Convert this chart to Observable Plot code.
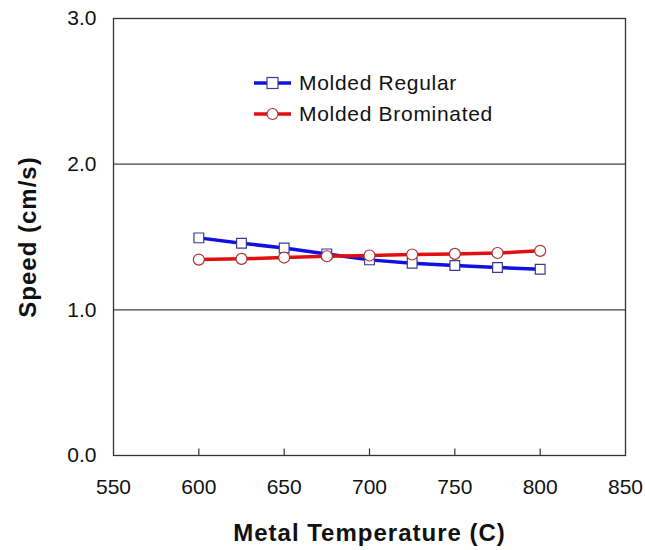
<!DOCTYPE html>
<html><head><meta charset="utf-8">
<script src="https://cdn.jsdelivr.net/npm/d3@7"></script>
<script src="https://cdn.jsdelivr.net/npm/@observablehq/plot@0.6"></script>
<style>
body{margin:0;background:#fff;font-family:"Liberation Sans",Arial,sans-serif;}
#wrap{position:relative;width:645px;height:550px;}
#legend{position:absolute;left:254px;top:67px;font-size:21px;letter-spacing:0.7px;color:#111;}
#legend .row{display:flex;align-items:center;height:31px;}
#legend svg{margin-right:8px;}
</style></head>
<body><div id="wrap"><div id="chart"></div><div id="legend"></div></div>
<script>
const temps = [600, 625, 650, 675, 700, 725, 750, 775, 800];
const regular = [1.494, 1.457, 1.425, 1.384, 1.343, 1.32, 1.304, 1.29, 1.279];
const brominated = [1.345, 1.35, 1.359, 1.368, 1.373, 1.38, 1.384, 1.39, 1.405];
const seriesNames = ["Molded Regular", "Molded Brominated"];
const xTicks = [550, 600, 650, 700, 750, 800, 850];
const yTicks = [0, 1, 2, 3];
const gridValues = [1, 2];

const colors = {"Molded Regular": "#1010e0", "Molded Brominated": "#e01010"};
const data = [];
temps.forEach((t, i) => {
  data.push({t, v: regular[i], s: seriesNames[0]});
  data.push({t, v: brominated[i], s: seriesNames[1]});
});
const reg = data.filter(d => d.s === seriesNames[0]);
const bro = data.filter(d => d.s === seriesNames[1]);

const chart = Plot.plot({
  width: 645, height: 550,
  marginLeft: 113, marginRight: 20, marginTop: 18, marginBottom: 95,
  style: {fontFamily: "Liberation Sans, Arial, sans-serif", fontSize: "21px", color: "#111", background: "#fff"},
  x: {domain: [550, 850]},
  y: {domain: [0, 3]},
  marks: [
    Plot.ruleY(gridValues, {stroke: "#444", strokeWidth: 1.2}),
    Plot.ruleX(xTicks.slice(1, -1), {y1: 0, y2: 0.045, stroke: "#333", strokeWidth: 1.2}),
    Plot.frame({stroke: "#333", strokeWidth: 1.3}),
    Plot.axisY({ticks: yTicks, tickSize: 0, tickPadding: 17, tickFormat: d3.format(".1f"), fontSize: 21, label: null}),
    Plot.axisX({ticks: xTicks, tickSize: 0, tickPadding: 24, tickFormat: d => String(d), fontSize: 21, label: null}),
    Plot.line(reg, {x: "t", y: "v", stroke: colors[seriesNames[0]], strokeWidth: 3.5}),
    Plot.line(bro, {x: "t", y: "v", stroke: colors[seriesNames[1]], strokeWidth: 3.5}),
    Plot.dot(reg, {x: "t", y: "v", symbol: "square", r: 5.5, fill: "white", stroke: "#3a3a9a", strokeWidth: 1.2}),
    Plot.dot(bro, {x: "t", y: "v", symbol: "circle", r: 5.5, fill: "white", stroke: "#b03030", strokeWidth: 1.2}),
    Plot.text(["Metal Temperature (C)"], {frameAnchor: "bottom", lineAnchor: "middle", dy: 78, fontSize: 24, fontWeight: "bold", fill: "#111", style: {letterSpacing: "1px"}}),
    Plot.text(["Speed (cm/s)"], {frameAnchor: "left", textAnchor: "middle", lineAnchor: "middle", dx: -85, rotate: -90, fontSize: 24, fontWeight: "bold", fill: "#111"})
  ]
});
document.getElementById("chart").appendChild(chart);
chart.querySelectorAll("text").forEach(t => {
  if (t.textContent === "Metal Temperature (C)" || t.textContent === "Speed (cm/s)") t.style.letterSpacing = "1px";
});

const legend = document.getElementById("legend");
seriesNames.forEach((name, i) => {
  const row = document.createElement("div");
  row.className = "row";
  const c = colors[name];
  const sym = i === 0
    ? `<rect x="13" y="5.5" width="11" height="11" fill="white" stroke="#3a3a9a" stroke-width="1.2"/>`
    : `<circle cx="18.5" cy="11" r="5.5" fill="white" stroke="#b03030" stroke-width="1.2"/>`;
  row.innerHTML = `<svg width="37" height="22"><line x1="0" y1="11" x2="37" y2="11" stroke="${c}" stroke-width="3.5"/>${sym}</svg><span>${name}</span>`;
  legend.appendChild(row);
});
</script></body></html>
